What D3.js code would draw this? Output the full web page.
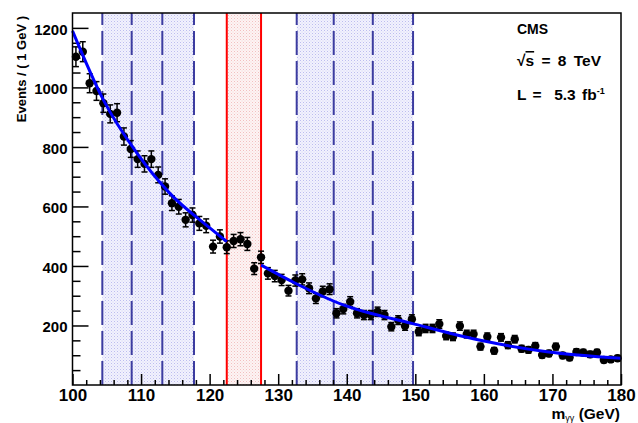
<!DOCTYPE html>
<html><head><meta charset="utf-8">
<script src="https://cdn.jsdelivr.net/npm/d3@7"></script>
<style>
body{margin:0;background:#fff;}
text{font-family:"Liberation Sans",Arial,Helvetica,sans-serif;font-weight:bold;fill:#000;}
</style></head>
<body><svg id="c" width="638" height="423"></svg>
<script>
// ---- data ----
const mass = [100.5,101.5,102.5,103.5,104.5,105.5,106.5,107.5,108.5,109.5,
110.5,111.5,112.5,113.5,114.5,115.5,116.5,117.5,118.5,119.5,
120.5,121.5,122.5,123.5,124.5,125.5,126.5,127.5,128.5,129.5,
130.5,131.5,132.5,133.5,134.5,135.5,136.5,137.5,138.5,139.5,
140.5,141.5,142.5,143.5,144.5,145.5,146.5,147.5,148.5,149.5,
150.5,151.5,152.5,153.5,154.5,155.5,156.5,157.5,158.5,159.5,
160.5,161.5,162.5,163.5,164.5,165.5,166.5,167.5,168.5,169.5,
170.5,171.5,172.5,173.5,174.5,175.5,176.5,177.5,178.5,179.5];
const events = [1103,1120,1014,988,947,911,915,835,793,759,
743,759,706,667,611,599,555,571,543,535,
465,499,463,484,490,474,391,429,375,366,
353,317,351,355,325,291,314,322,241,255,
280,241,235,235,246,235,196,218,198,221,
179,190,190,205,165,162,198,171,171,129,
162,115,160,134,154,122,118,131,101,106,
129,99,92,111,109,103,109,84,86,90];
// background fit
const fitMass = [100,104.5,109.4,114.2,119.8,122.5, 127.5,132.5,139.5,149.5,159.3,169.2,180];
const fitEvents = [1190,958,779,644,532,482, 403,342,269,207,151,112,90];
// category boundaries
const sidebandEdges = [104.35,108.63,113.1,117.72,132.7,138.1,143.8,149.67];
const signalEdges = [122.5,127.5];
const sidebandBands = [[104.35,117.72],[132.7,149.67]];
const xTicks = [100,110,120,130,140,150,160,170,180];
const yTicks = [200,400,600,800,1000,1200];

// ---- scales ----
const L=72.5,R=621,T=13,B=385;
const x = d3.scaleLinear().domain([100,180]).range([L,R]);
const y = d3.scaleLinear().domain([0,1250]).range([B,T]);
const svg = d3.select("#c");

const defs = svg.append("defs");
const pb = defs.append("pattern").attr("id","pb").attr("width",3).attr("height",3).attr("patternUnits","userSpaceOnUse");
pb.append("rect").attr("width",3).attr("height",3).attr("fill","#f2f2fd");
pb.append("rect").attr("width",1).attr("height",1).attr("fill","#bdbdef");
pb.append("rect").attr("x",1.5).attr("y",1.5).attr("width",1).attr("height",1).attr("fill","#d3d3f5");
const pr = defs.append("pattern").attr("id","pr").attr("width",3).attr("height",3).attr("patternUnits","userSpaceOnUse");
pr.append("rect").attr("width",3).attr("height",3).attr("fill","#fdf4f4");
pr.append("rect").attr("width",1).attr("height",1).attr("fill","#f2c0c0");
pr.append("rect").attr("x",1.5).attr("y",1.5).attr("width",1).attr("height",1).attr("fill","#f6d6d6");

// shaded bands
svg.selectAll("rect.sb").data(sidebandBands).enter().append("rect")
  .attr("x",d=>x(d[0])).attr("width",d=>x(d[1])-x(d[0]))
  .attr("y",T).attr("height",B-T).attr("fill","url(#pb)");
svg.append("rect").attr("x",x(signalEdges[0])).attr("width",x(signalEdges[1])-x(signalEdges[0]))
  .attr("y",T).attr("height",B-T).attr("fill","url(#pr)");

// dashed sideband lines
svg.selectAll("line.sbl").data(sidebandEdges).enter().append("line")
  .attr("x1",d=>x(d)).attr("x2",d=>x(d)).attr("y1",B).attr("y2",T)
  .attr("stroke","#3c3ca0").attr("stroke-width",2).attr("stroke-dasharray","24,6");
svg.selectAll("line.sig").data(signalEdges).enter().append("line")
  .attr("x1",d=>x(d)).attr("x2",d=>x(d)).attr("y1",B).attr("y2",T)
  .attr("stroke","#ff0000").attr("stroke-width",2);

// axes
const yMinor = d3.range(50,1250,50).filter(v=>v%200!==0);
const xMinor = d3.range(102,180,2).filter(v=>v%10!==0);
const gy = svg.append("g").attr("transform",`translate(${L},0)`);
gy.call(d3.axisLeft(y).tickValues(yTicks).tickSize(-16).tickPadding(5).tickFormat(d3.format("d")));
gy.append("g").call(d3.axisLeft(y).tickValues(yMinor).tickSize(-8).tickFormat(""));
gy.selectAll("path.domain").remove();
gy.selectAll("line").attr("stroke","#000").attr("stroke-width",1.5);
gy.selectAll("text").style("font-size","15px").attr("fill","#000").attr("dy","0.42em");

const gx = svg.append("g").attr("transform",`translate(0,${B})`);
gx.call(d3.axisBottom(x).tickValues(xTicks).tickSize(-11).tickPadding(4).tickFormat(d3.format("d")));
gx.append("g").call(d3.axisBottom(x).tickValues(xMinor).tickSize(-5).tickFormat(""));
gx.selectAll("path.domain").remove();
gx.selectAll("line").attr("stroke","#000").attr("stroke-width",1.5);
gx.selectAll("text").style("font-size","17px").attr("fill","#000");

// data points with Poisson error bars
const pts = mass.map((m,i)=>({m, v:events[i], e:Math.sqrt(events[i])}));
const g = svg.append("g");
g.selectAll("line.eb").data(pts).enter().append("line")
  .attr("x1",d=>x(d.m)).attr("x2",d=>x(d.m)).attr("y1",d=>y(d.v-d.e)).attr("y2",d=>y(d.v+d.e))
  .attr("stroke","#000").attr("stroke-width",1.5);
g.selectAll("line.ct").data(pts).enter().append("line")
  .attr("x1",d=>x(d.m)-3).attr("x2",d=>x(d.m)+3).attr("y1",d=>y(d.v+d.e)).attr("y2",d=>y(d.v+d.e))
  .attr("stroke","#000").attr("stroke-width",1.5);
g.selectAll("line.cb").data(pts).enter().append("line")
  .attr("x1",d=>x(d.m)-3).attr("x2",d=>x(d.m)+3).attr("y1",d=>y(d.v-d.e)).attr("y2",d=>y(d.v-d.e))
  .attr("stroke","#000").attr("stroke-width",1.5);
g.selectAll("circle").data(pts).enter().append("circle")
  .attr("cx",d=>x(d.m)).attr("cy",d=>y(d.v)).attr("r",4.2).attr("fill","#000");

// fit curve (two segments outside the signal window)
const fit = fitMass.map((m,i)=>({m,v:fitEvents[i]}));
const line = d3.line().x(d=>x(d.m)).y(d=>y(d.v)).curve(d3.curveMonotoneX);
const segs = [fit.filter(d=>d.m<=signalEdges[0]), fit.filter(d=>d.m>=signalEdges[1])];
svg.selectAll("path.fit").data(segs).enter().append("path")
  .attr("d",line).attr("fill","none").attr("stroke","#0000ff").attr("stroke-width",3);

// frame
svg.append("rect").attr("x",L).attr("y",T).attr("width",R-L).attr("height",B-T)
  .attr("fill","none").attr("stroke","#000").attr("stroke-width",1.5);

// titles
svg.append("text").attr("transform","translate(26,16) rotate(-90)").attr("text-anchor","end")
  .style("font-size","13px")
  .text("Events / ( 1 GeV )");
const xt = svg.append("text").attr("x",620).attr("y",418.5).attr("text-anchor","end").style("font-size","15.5px");
xt.append("tspan").text("m");
xt.append("tspan").attr("dy",2).style("font-size","9px").style("font-weight","normal").text("γγ");
xt.append("tspan").attr("dy",-2).text(" (GeV)");

svg.append("text").attr("x",517).attr("y",34).style("font-size","14px").text("CMS");
const t2 = svg.append("text").attr("x",517).attr("y",66).style("font-size","15.5px").style("word-spacing","3px");
t2.append("tspan").text("√");
t2.append("tspan").style("text-decoration","overline").text("s");
t2.append("tspan").text(" = 8 TeV");
const t3 = svg.append("text").attr("x",517).attr("y",100).style("font-size","15.5px").style("white-space","pre").style("word-spacing","2px");
t3.append("tspan").text("L =  5.3 fb");
t3.append("tspan").attr("dy",-6).style("font-size","9px").text("-1");
</script></body></html>
